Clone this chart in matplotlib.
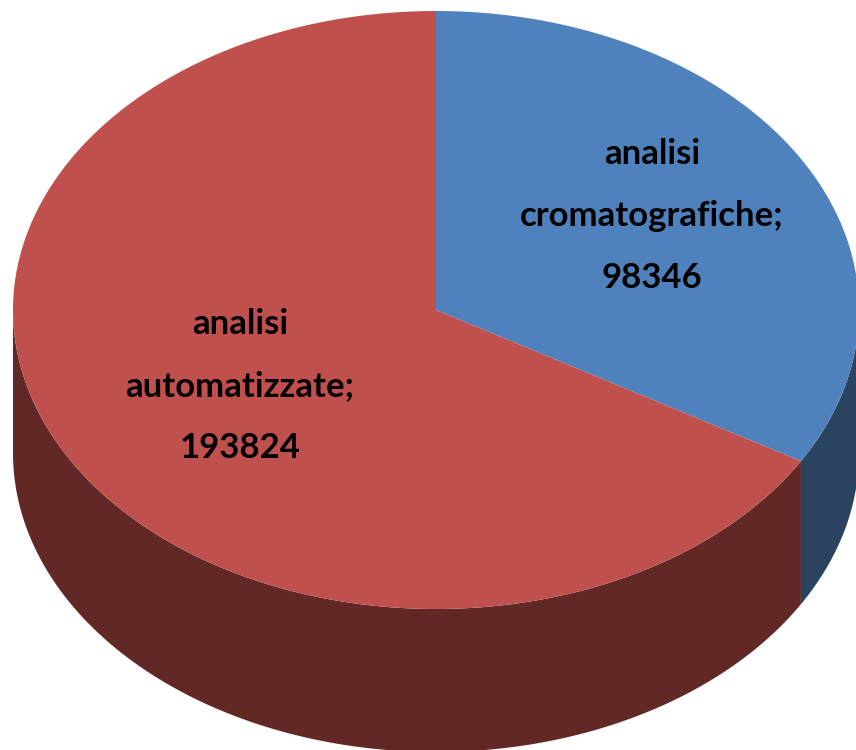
import numpy as np
import matplotlib
matplotlib.use("Agg")
import matplotlib.pyplot as plt

# data
labels = ["analisi\ncromatografiche;\n98346", "analisi\nautomatizzate;\n193824"]
values = [98346, 193824]
top_colors = ["#4F81BD", "#C0504D"]
side_colors = ["#2A4360", "#622826"]

# pie geometry in pixels
cx, cy = 436, 310
rx, ry = 423, 299
depth = 143

fig = plt.figure(figsize=(8.56, 7.5), dpi=100)
ax = fig.add_axes([0, 0, 1, 1])
ax.set_xlim(0, 856)
ax.set_ylim(750, 0)
ax.axis("off")


def rim(a, b, dy=0):
    t = np.radians(np.linspace(a, b, 300))
    return cx + rx * np.cos(t), cy + dy + ry * np.sin(t)


# slices start at the top and go clockwise (0.8 deg is a small nudge to line up the split)
split = -90 + 360 * values[0] / sum(values) - 0.8

# side walls, only the front half shows
for a, b, col in [(0, split, side_colors[0]), (split, 180, side_colors[1])]:
    x1, y1 = rim(a, b)
    x2, y2 = rim(b, a, depth)
    ax.fill(np.r_[x1, x2], np.r_[y1, y2], color=col, lw=0)

# top faces
for a, b, col in [(-90, split, top_colors[0]), (split, 270, top_colors[1])]:
    x1, y1 = rim(a, b)
    ax.fill(np.r_[cx, x1], np.r_[cy, y1], color=col, lw=0)

font = dict(ha="center", va="center", fontsize=25, fontweight="bold",
            family="Lato", color="black", linespacing=2.15)
ax.text(652, 216, labels[0], **font)
ax.text(240, 386, labels[1], **font)

fig.savefig("out.png", dpi=100)
